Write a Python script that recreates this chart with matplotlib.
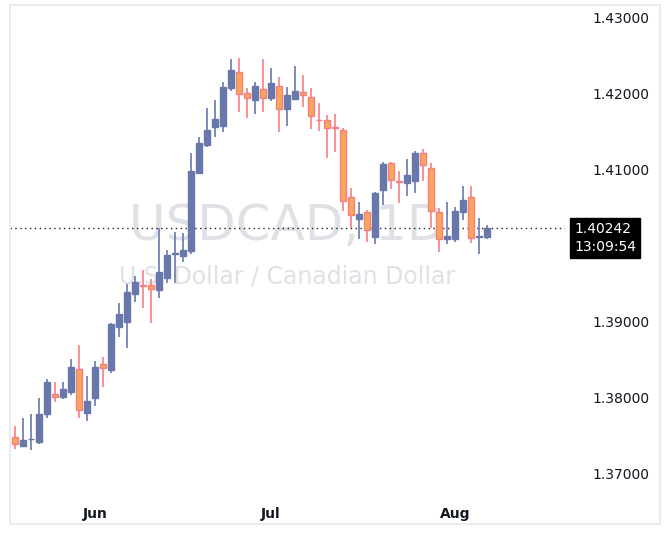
import matplotlib
matplotlib.use("Agg")
import matplotlib.pyplot as plt
from matplotlib.patches import Rectangle

opens = [1.37491,1.37372,1.37454,1.37425,1.37793,1.38053,1.38017,1.38083,1.38382,1.37807,
         1.38004,1.38443,1.38368,1.38938,1.39004,1.39372,1.39480,1.39483,1.39425,1.39583,
         1.39895,1.39872,1.39934,1.40961,1.41333,1.41570,1.41579,1.42083,1.42289,1.42013,
         1.41925,1.42062,1.41951,1.42105,1.41807,1.41938,1.42026,1.41961,1.41664,1.41658,
         1.41566,1.41526,1.40641,1.40359,1.40443,1.40122,1.40741,1.41088,1.40849,1.40833,
         1.40859,1.41220,1.41022,1.40443,1.40088,1.40096,1.40451,1.40641,1.40122,1.40122]
highs = [1.37632,1.37737,1.37789,1.38000,1.38250,1.38211,1.38211,1.38513,1.38697,1.38293,
         1.38487,1.38539,1.38987,1.39250,1.39504,1.39605,1.39684,1.39562,1.40237,1.39947,
         1.40184,1.40171,1.41224,1.41438,1.41816,1.41921,1.42158,1.42461,1.42478,1.42079,
         1.42158,1.42461,1.42342,1.42224,1.42096,1.42372,1.42250,1.42079,1.41882,1.41728,
         1.41741,1.41549,1.40763,1.40579,1.40474,1.40714,1.41101,1.41105,1.40987,1.41145,
         1.41250,1.41276,1.41096,1.40496,1.40579,1.40509,1.40789,1.40789,1.40364,1.40272]
lows = [1.37329,1.37372,1.37320,1.37395,1.37741,1.37951,1.37987,1.38043,1.37741,1.37701,
        1.37899,1.38149,1.38329,1.38807,1.38662,1.39267,1.39188,1.38991,1.39320,1.39509,
        1.39513,1.39793,1.39899,1.40943,1.41307,1.41438,1.41504,1.42043,1.41767,1.41688,
        1.41741,1.41767,1.41912,1.41496,1.41583,1.41938,1.41833,1.41543,1.41517,1.41162,
        1.41241,1.40464,1.40233,1.40096,1.40057,1.40030,1.40543,1.40754,1.40570,1.40662,
        1.40701,1.40859,1.40241,1.39917,1.40030,1.40049,1.40346,1.40043,1.39899,1.40096]
closes = [1.37395,1.37447,1.37461,1.37789,1.38211,1.38017,1.38118,1.38408,1.37842,1.37961,
          1.38408,1.38391,1.38974,1.39105,1.39395,1.39526,1.39474,1.39430,1.39658,1.39882,
          1.39904,1.39947,1.40987,1.41355,1.41526,1.41671,1.42092,1.42316,1.41996,1.41943,
          1.42105,1.41943,1.42145,1.41799,1.41987,1.42039,1.41983,1.41714,1.41658,1.41557,
          1.41559,1.40588,1.40404,1.40417,1.40207,1.40697,1.41079,1.40864,1.40842,1.40930,
          1.41228,1.41062,1.40457,1.40096,1.40132,1.40461,1.40605,1.40101,1.40132,1.40242]
month_labels = ["Jun", "Jul", "Aug"]
month_pos = [10, 32, 55]
yticks = [1.37, 1.38, 1.39, 1.41, 1.42, 1.43]
last_price = 1.40242

UP = "#6878AA"
DN_FACE = "#F9A65A"
DN_EDGE = "#F57F85"

fig = plt.figure(figsize=(6.7, 5.44), dpi=100)
W, H = 670, 544
ax = fig.add_axes([10/W, 1-490/H, 555/W, 485/H])
ax.set_xlim(-0.625, 68.75)
ax.set_ylim(1.36789, 1.43171)

for i, (o, h, l, c) in enumerate(zip(opens, highs, lows, closes)):
    up = c >= o
    ec = UP if up else DN_EDGE
    fc = UP if up else DN_FACE
    ax.plot([i, i], [l, h], color=ec, lw=1.2, zorder=2, solid_capstyle="butt")
    lo, hi = min(o, c), max(o, c)
    ht = max(hi - lo, 0.00004)
    ax.add_patch(Rectangle((i - 0.4, lo), 0.8, ht, facecolor=fc, edgecolor=ec, lw=1.0, zorder=3))

ax.axhline(last_price, color="#222222", lw=1.0, ls=(0, (1, 2.5)), zorder=1)

ax.text(0.5, 0.545, "USDCAD, 1D", transform=ax.transAxes, ha="center", va="center",
        fontsize=36, color="#dfe1e6", zorder=0)
ax.text(0.5, 0.44, "U.S. Dollar / Canadian Dollar", transform=ax.transAxes, ha="center",
        va="center", fontsize=17, color="#dfe1e6", zorder=0)

for s in ax.spines.values():
    s.set_visible(False)
ax.yaxis.tick_right()
ax.set_yticks(yticks)
ax.set_yticklabels([f"{v:.5f}" for v in yticks])
ax.tick_params(axis="y", length=0, pad=20, labelsize=10, labelcolor="#131722")
ax.set_xticks(month_pos)
ax.set_xticklabels(month_labels)
ax.tick_params(axis="x", length=0, pad=12, labelsize=10, labelcolor="#131722")
for t in ax.get_xticklabels():
    t.set_fontweight("bold")

fig.text(574/W, 1-238/H, f"{last_price:.5f}\n13:09:54", ha="left", va="center",
         fontsize=10, color="white", linespacing=1.35,
         bbox=dict(boxstyle="square,pad=0.3", fc="#000000", ec="#000000"))

fig.add_artist(plt.Line2D([10/W, 660/W, 660/W, 10/W, 10/W],
                          [1-5/H, 1-5/H, 1-524/H, 1-524/H, 1-5/H],
                          color="#e8e8ec", lw=1.2))

fig.savefig("out.png", dpi=100)
